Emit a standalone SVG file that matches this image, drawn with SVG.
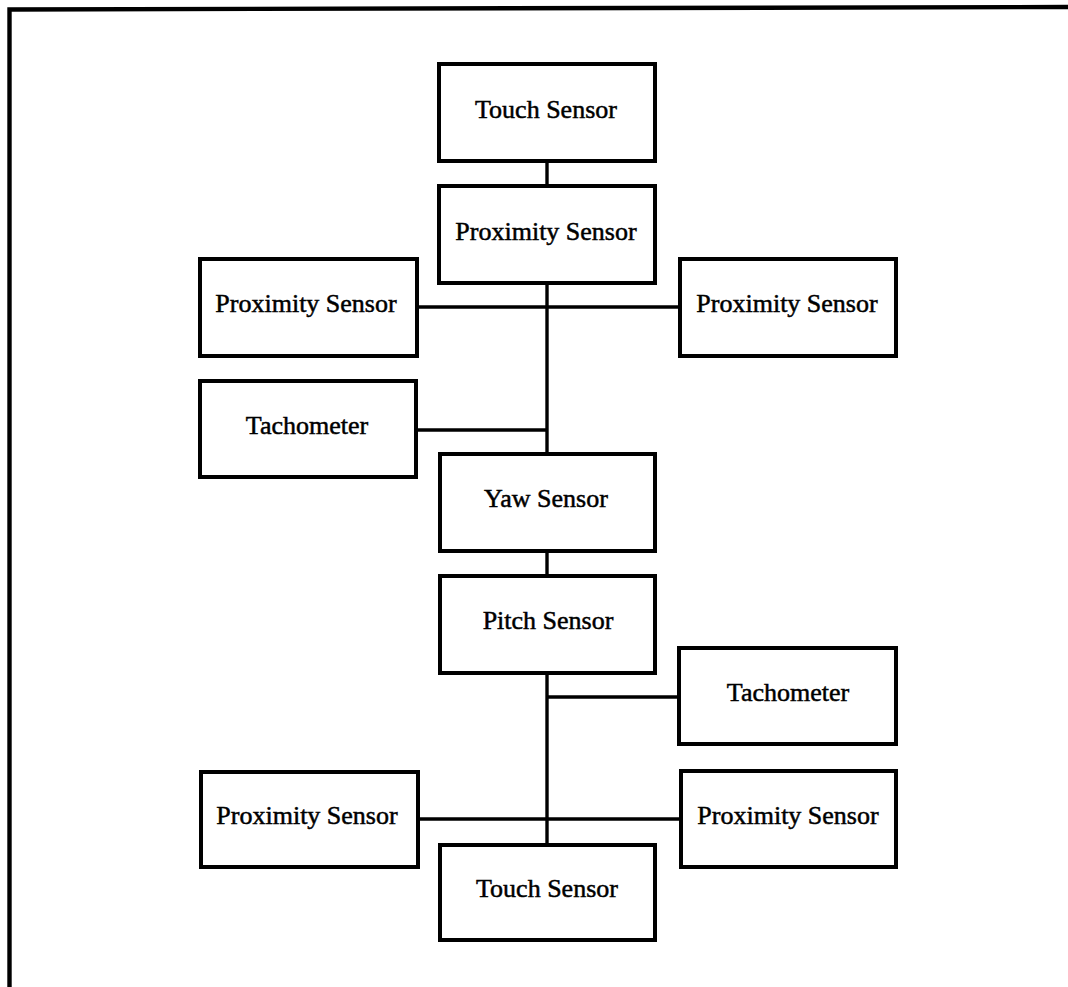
<svg xmlns="http://www.w3.org/2000/svg" width="1068" height="987" viewBox="0 0 1068 987">
  <style>
    .box { fill: #fff; stroke: #000; stroke-width: 4; }
    .wire { fill: none; stroke: #000; stroke-width: 3.4; stroke-linecap: butt; }
    .label { font-family: "Liberation Serif", "Times New Roman", serif; font-size: 26px; fill: #000; stroke: #000; stroke-width: 0.5; text-anchor: middle; }
    .frame { fill: none; stroke: #000; stroke-width: 4.4; }
  </style>
  <rect x="0" y="0" width="1068" height="987" fill="#fff"/>

  <!-- page frame -->
  <polyline class="frame" points="9.5,987 9.5,9.5 1068,7"/>

  <!-- bus lines joining the sensors -->
  <g id="connectors">
    <line class="wire" x1="547" y1="163" x2="547" y2="184"/>
    <line class="wire" x1="547" y1="285" x2="547" y2="452"/>
    <line class="wire" x1="419" y1="307" x2="678" y2="307"/>
    <line class="wire" x1="418" y1="430" x2="547" y2="430"/>
    <line class="wire" x1="547" y1="553" x2="547" y2="574"/>
    <line class="wire" x1="547" y1="675" x2="547" y2="843"/>
    <line class="wire" x1="547" y1="697" x2="677" y2="697"/>
    <line class="wire" x1="420" y1="819" x2="679" y2="819"/>
  </g>

  <g id="touch-top">
    <rect class="box" x="439" y="64" width="216" height="97"/>
    <text class="label" x="546" y="117.5">Touch Sensor</text>
  </g>
  <g id="proximity-top">
    <rect class="box" x="439" y="186" width="216" height="97"/>
    <text class="label" x="546" y="240">Proximity Sensor</text>
  </g>
  <g id="proximity-upper-left">
    <rect class="box" x="200" y="259" width="217" height="97"/>
    <text class="label" x="306" y="312">Proximity Sensor</text>
  </g>
  <g id="proximity-upper-right">
    <rect class="box" x="680" y="259" width="216" height="97"/>
    <text class="label" x="787" y="312">Proximity Sensor</text>
  </g>
  <g id="tachometer-left">
    <rect class="box" x="200" y="381" width="216" height="96"/>
    <text class="label" x="307" y="434">Tachometer</text>
  </g>
  <g id="yaw">
    <rect class="box" x="440" y="454" width="215" height="97"/>
    <text class="label" x="546" y="507">Yaw Sensor</text>
  </g>
  <g id="pitch">
    <rect class="box" x="440" y="576" width="215" height="97"/>
    <text class="label" x="548" y="629">Pitch Sensor</text>
  </g>
  <g id="tachometer-right">
    <rect class="box" x="679" y="648" width="217" height="96"/>
    <text class="label" x="788" y="701">Tachometer</text>
  </g>
  <g id="proximity-lower-left">
    <rect class="box" x="201" y="772" width="217" height="95"/>
    <text class="label" x="307" y="824">Proximity Sensor</text>
  </g>
  <g id="proximity-lower-right">
    <rect class="box" x="681" y="771" width="215" height="96"/>
    <text class="label" x="788" y="824">Proximity Sensor</text>
  </g>
  <g id="touch-bottom">
    <rect class="box" x="440" y="845" width="215" height="95"/>
    <text class="label" x="547" y="897">Touch Sensor</text>
  </g>
</svg>
